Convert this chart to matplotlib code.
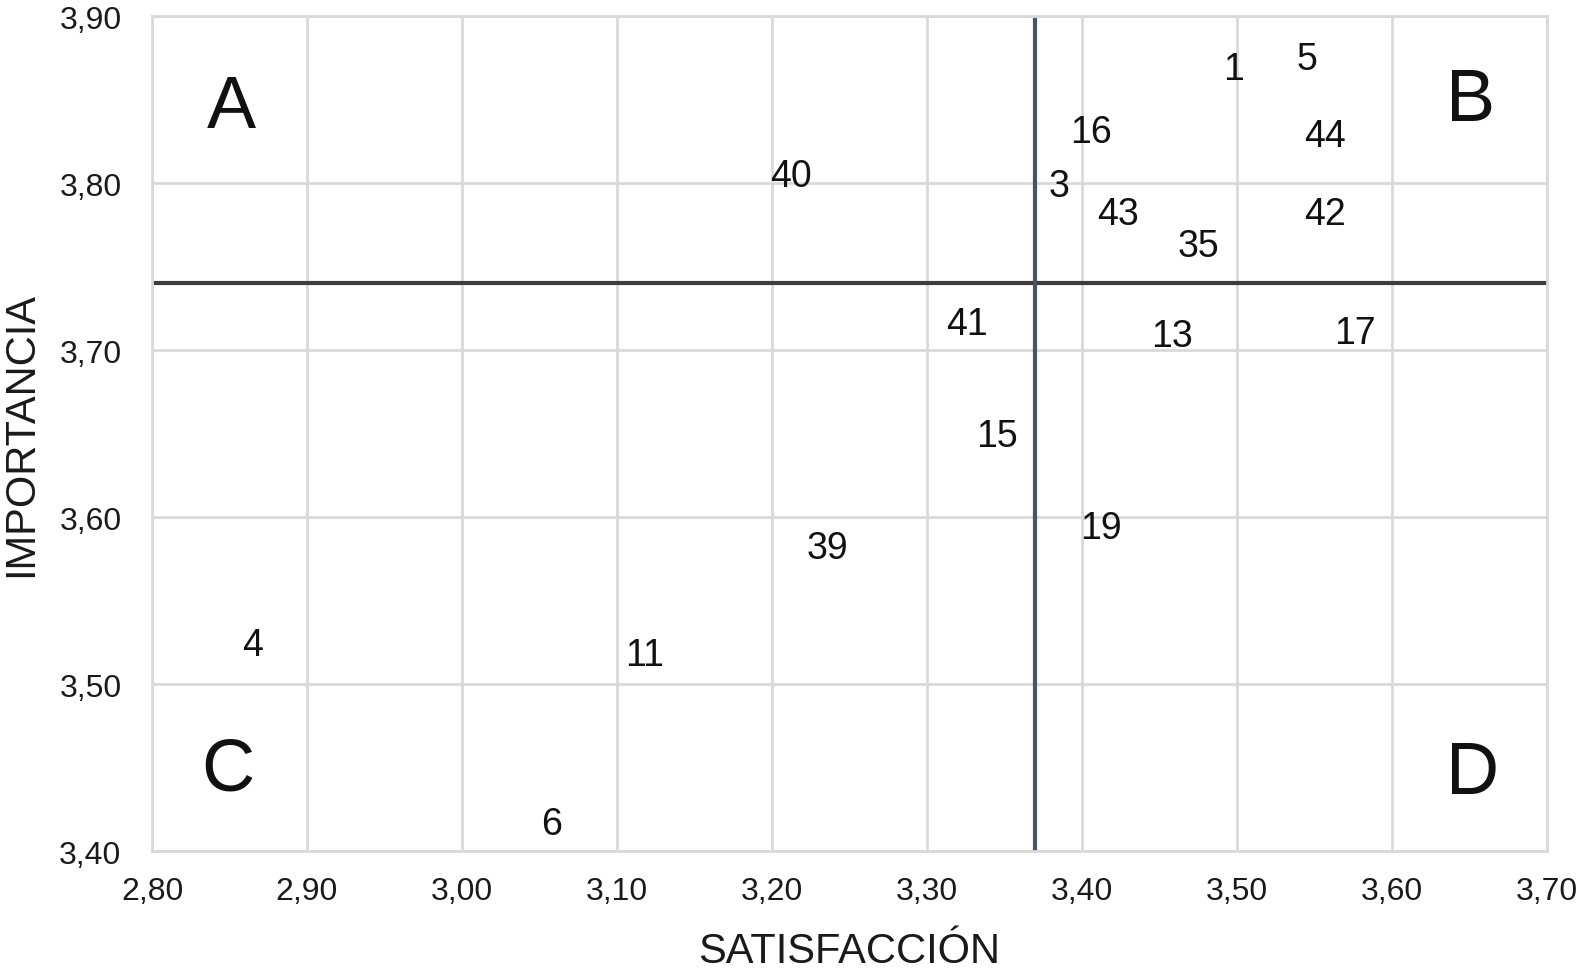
import matplotlib
matplotlib.use("Agg")
import matplotlib.pyplot as plt
from matplotlib.ticker import FuncFormatter

plt.rcParams["font.family"] = ["Liberation Sans", "DejaVu Sans"]

# item numbers and their (satisfaccion, importancia) positions
items = ["1", "5", "16", "44", "40", "3", "43", "42", "35", "41",
         "13", "17", "15", "19", "39", "4", "11", "6"]
satisfaccion = [3.498, 3.545, 3.406, 3.557, 3.212, 3.385, 3.423, 3.557, 3.475, 3.326,
                3.458, 3.576, 3.345, 3.412, 3.236, 2.865, 3.118, 3.058]
importancia = [3.870, 3.876, 3.832, 3.830, 3.806, 3.800, 3.783, 3.783, 3.764, 3.717,
               3.710, 3.712, 3.650, 3.595, 3.583, 3.525, 3.519, 3.418]

media_sat = 3.37
media_imp = 3.74

cuadrantes = ["A", "B", "C", "D"]
cuad_x = [2.851, 3.651, 2.849, 3.652]
cuad_y = [3.847, 3.851, 3.450, 3.448]

fig = plt.figure(figsize=(15.85, 9.78), dpi=100)
ax = fig.add_axes([0.0959, 0.1288, 0.8801, 0.8538])

ax.set_xlim(2.80, 3.70)
ax.set_ylim(3.40, 3.90)
ax.set_xticks([2.80 + 0.1 * i for i in range(10)])
ax.set_yticks([3.40 + 0.1 * i for i in range(6)])
fmt = FuncFormatter(lambda v, p: f"{v:.2f}".replace(".", ","))
ax.xaxis.set_major_formatter(fmt)
ax.yaxis.set_major_formatter(fmt)

ax.grid(True, color="#d9d9d9", linewidth=2)
ax.set_axisbelow(True)
for s in ax.spines.values():
    s.set_color("#d9d9d9")
    s.set_linewidth(2)
ax.tick_params(length=0, labelsize=23, colors="#1a1a1a")
ax.tick_params(axis="x", pad=18)
ax.tick_params(axis="y", pad=22)

ax.axhline(media_imp, color="#3d3d3d", linewidth=3)
ax.axvline(media_sat, color="#4a5466", linewidth=3)

for t, x, y in zip(items, satisfaccion, importancia):
    ax.annotate(t, (x, y), xytext=(0, -2), textcoords="offset points",
                fontsize=27, ha="center", va="center", color="#111111")

for t, x, y in zip(cuadrantes, cuad_x, cuad_y):
    ax.annotate(t, (x, y), xytext=(0, -2), textcoords="offset points",
                fontsize=53, ha="center", va="center", color="#111111")

ax.set_xlabel("SATISFACCIÓN", fontsize=30, labelpad=18, color="#1a1a1a")
ax.set_ylabel("IMPORTANCIA", fontsize=30, color="#1a1a1a")
ax.yaxis.set_label_coords(-0.0795, 0.5)

fig.savefig("out.png", dpi=100)
